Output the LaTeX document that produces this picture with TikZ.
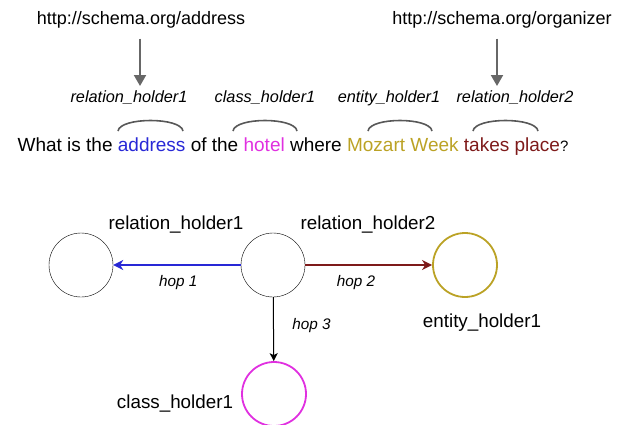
\documentclass[tikz,border=0pt]{standalone}
\usepackage{fontspec}
\setmainfont{Liberation Sans}
\usetikzlibrary{arrows.meta}
\definecolor{relblue}{HTML}{2828D6}
\definecolor{classpink}{HTML}{E030E0}
\definecolor{entgold}{HTML}{BBA225}
\definecolor{relred}{HTML}{7E1A1A}
\definecolor{uriGray}{HTML}{676767}

\begin{document}
\begin{tikzpicture}[x=1pt,y=-1pt,
    every node/.style={inner sep=0pt,font=\fontsize{18.8}{22}\selectfont},
    tag/.style={font=\fontsize{16.3}{19}\selectfont\itshape},
    hop/.style={font=\fontsize{15.3}{18}\selectfont\itshape},
    holder/.style={draw=black,circle,minimum size=64pt,inner sep=0pt},
    uri/.style={draw=uriGray,line width=2pt,-{Triangle[length=11pt,width=12pt]}},
    span/.style={draw=uriGray!85!black,line width=1.6pt}]
    \useasboundingbox (0,0) rectangle (627,424);

    % question and its placeholders
    \node[font=\fontsize{18}{21}\selectfont] (u1) at (141,20) {http://schema.org/address};
    \node[font=\fontsize{18}{21}\selectfont] (u2) at (502,20) {http://schema.org/organizer};
    \node[tag] (t1) at (129,98) {relation\_holder1};
    \node[tag] (t2) at (265,98) {class\_holder1};
    \node[tag] (t3) at (389,98) {entity\_holder1};
    \node[tag] (t4) at (515,98) {relation\_holder2};
    \node[font=\fontsize{19}{22}\selectfont] (q) at (293,147) {What is the \textcolor{relblue}{address} of the
        \textcolor{classpink}{hotel} where \textcolor{entgold}{Mozart Week}
        \textcolor{relred}{takes place}{\fontsize{15}{18}\selectfont ?}};
    \coordinate (a1) at (140,86);
    \coordinate (a2) at (497,86);

    \path [uri] (u1.south -| a1) ++(0,10) -- (a1);
    \path [uri] (u2.south -| a2) ++(0,10) -- (a2);

    \path [span] (118,131) .. controls (120,117) and (181,117) .. (183,131);
    \path [span] (233,131) .. controls (235,117) and (295,117) .. (297,131);
    \path [span] (368,131) .. controls (370,117) and (430,117) .. (432,131);
    \path [span] (473,131) .. controls (475,117) and (536,117) .. (538,131);

    % query graph
    \node[holder] (r1) at (81,265) {};
    \node[holder] (c) at (273,265) {};
    \node[holder,draw=entgold,line width=1.8pt] (e1) at (465,265) {};
    \node[holder,draw=classpink,line width=1.8pt] (c1) at (274,394) {};

    \node (lr1) at (176,225) {relation\_holder1};
    \node (lr2) at (368,225) {relation\_holder2};
    \node (le1) at (482,323) {entity\_holder1};
    \node (lc1) at (175,404) {class\_holder1};

    \path [draw=relblue,line width=2pt,-{Stealth[length=10pt,width=10pt,inset=3pt]}] (c) edge node[hop,pos=0.49,yshift=-18pt] {hop 1} (r1);
    \path [draw=relred,line width=2pt,-{Stealth[length=10pt,width=10pt,inset=3pt]}] (c) edge node[hop,pos=0.4,yshift=-18pt] {hop 2} (e1);
    \path [draw=black,line width=1pt,-{Stealth[length=8pt,width=8pt,inset=2pt]}] (c) edge node[hop,pos=0.45,xshift=38pt] {hop 3} (c1);
\end{tikzpicture}
\end{document}
